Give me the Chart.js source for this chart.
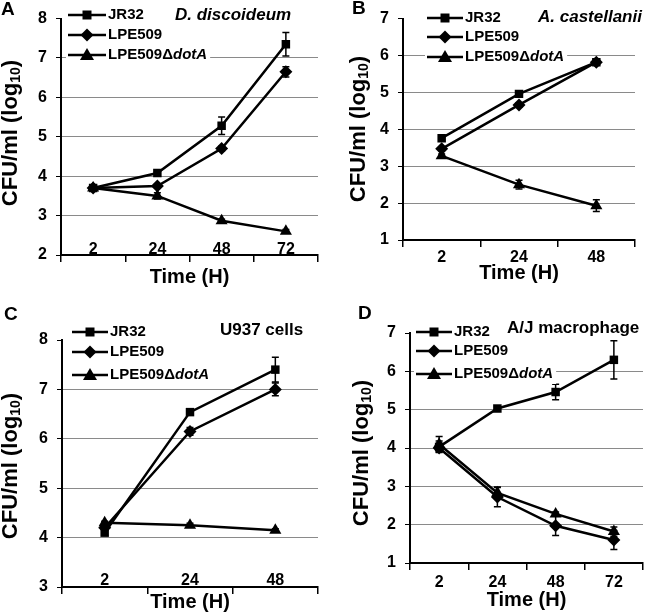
<!DOCTYPE html>
<html>
<head>
<meta charset="utf-8">
<script src="https://cdn.jsdelivr.net/npm/chart.js@4.4.0/dist/chart.umd.min.js"></script>
<style>
  html, body { margin: 0; padding: 0; background: #fff; }
  #wrap { position: relative; width: 650px; height: 614px; }
  canvas { position: absolute; }
</style>
</head>
<body>
<div id="wrap">
  <canvas id="chartA" width="325" height="300" style="left:0;top:0"></canvas>
  <canvas id="chartB" width="325" height="300" style="left:325px;top:0"></canvas>
  <canvas id="chartC" width="325" height="314" style="left:0;top:300px"></canvas>
  <canvas id="chartD" width="325" height="314" style="left:325px;top:300px"></canvas>
</div>
<script>
const FONT = '"Liberation Sans", Arial, sans-serif';

// Panel A - D. discoideum
const hoursA = ['2', '24', '48', '72'];
const jr32A = [3.7, 4.08, 5.28, 7.35];
const jr32ErrA = [0.04, 0.04, 0.22, 0.3];
const lpe509A = [3.7, 3.75, 4.7, 6.65];
const lpe509ErrA = [0.04, 0.05, 0.06, 0.13];
const dotAA = [3.7, 3.5, 2.87, 2.6];
const dotAErrA = [0.03, 0.08, 0.04, 0.05];

// Panel B - A. castellanii
const hoursB = ['2', '24', '48'];
const jr32B = [3.76, 4.96, 5.82];
const jr32ErrB = [0.05, 0.05, 0.05];
const lpe509B = [3.47, 4.66, 5.82];
const lpe509ErrB = [0.05, 0.06, 0.05];
const dotAB = [3.28, 2.5, 1.93];
const dotAErrB = [0.05, 0.12, 0.16];

// Panel C - U937 cells
const hoursC = ['2', '24', '48'];
const jr32C = [4.1, 6.54, 7.4];
const jr32ErrC = [0.05, 0.05, 0.25];
const lpe509C = [4.2, 6.15, 7.0];
const lpe509ErrC = [0.04, 0.08, 0.13];
const dotAC = [4.3, 4.25, 4.15];
const dotAErrC = [0.03, 0.04, 0.03];

// Panel D - A/J macrophage
const hoursD = ['2', '24', '48', '72'];
const jr32D = [4.03, 5.03, 5.46, 6.3];
const jr32ErrD = [0.15, 0.05, 0.2, 0.5];
const lpe509D = [4.0, 2.72, 1.97, 1.6];
const lpe509ErrD = [0.1, 0.25, 0.25, 0.25];
const dotAD = [4.1, 2.83, 2.28, 1.82];
const dotAErrD = [0.2, 0.15, 0.05, 0.12];

// legend text: plain part, italic part
const legendText = [['JR32', ''], ['LPE509', ''], ['LPE509\u0394', 'dotA']];
const markerStyles = ['rect', 'rectRot', 'triangle'];
const markerRadius = [6, 6.5, 7];

// draws error bars before lines and markers
const errorBars = {
  id: 'errorBars',
  beforeDatasetsDraw(chart) {
    const ctx = chart.ctx;
    const y = chart.scales.y;
    ctx.save();
    ctx.strokeStyle = '#000';
    ctx.lineWidth = 1.5;
    chart.data.datasets.forEach((ds, di) => {
      const meta = chart.getDatasetMeta(di);
      ds.errors.forEach((e, i) => {
        const px = meta.data[i].x;
        const top = y.getPixelForValue(ds.data[i] + e);
        const bot = y.getPixelForValue(ds.data[i] - e);
        ctx.beginPath();
        ctx.moveTo(px, top); ctx.lineTo(px, bot);
        ctx.moveTo(px - 3.5, top); ctx.lineTo(px + 3.5, top);
        ctx.moveTo(px - 3.5, bot); ctx.lineTo(px + 3.5, bot);
        ctx.stroke();
      });
    });
    ctx.restore();
  }
};

function drawMarker(ctx, style, x, y) {
  ctx.beginPath();
  if (style === 'rect') {
    ctx.rect(x - 4.5, y - 4.5, 9, 9);
  } else if (style === 'rectRot') {
    ctx.moveTo(x, y - 6.5); ctx.lineTo(x + 6.5, y); ctx.lineTo(x, y + 6.5); ctx.lineTo(x - 6.5, y);
    ctx.closePath();
  } else {
    ctx.moveTo(x, y - 7); ctx.lineTo(x + 7, y + 5); ctx.lineTo(x - 7, y + 5);
    ctx.closePath();
  }
  ctx.fill();
}

// panel letter, legend, panel title and y axis title
const panelDecor = {
  id: 'panelDecor',
  afterDraw(chart, args, o) {
    const ctx = chart.ctx;
    ctx.save();
    ctx.textBaseline = 'middle';
    ctx.textAlign = 'left';

    ctx.fillStyle = '#000';
    ctx.font = 'bold 19px ' + FONT;
    ctx.fillText(o.letter, o.letterX, o.letterY);

    // legend, one white strip per row
    const textX = o.legendX + o.lineLen + 2;
    ctx.strokeStyle = '#000';
    ctx.lineWidth = 2.5;
    o.rows.forEach((ry, i) => {
      ctx.font = 'bold 15px ' + FONT;
      const w0 = ctx.measureText(legendText[i][0]).width;
      ctx.font = 'italic bold 15px ' + FONT;
      const w1 = ctx.measureText(legendText[i][1]).width;
      ctx.fillStyle = '#fff';
      ctx.fillRect(o.legendX - 2, ry - 10, textX - o.legendX + w0 + w1 + 5, 20);
      ctx.fillStyle = '#000';
      ctx.beginPath();
      ctx.moveTo(o.legendX, ry); ctx.lineTo(o.legendX + o.lineLen, ry);
      ctx.stroke();
      drawMarker(ctx, markerStyles[i], o.legendX + o.lineLen / 2, ry);
      ctx.font = 'bold 15px ' + FONT;
      ctx.fillText(legendText[i][0], textX, ry);
      ctx.font = 'italic bold 15px ' + FONT;
      ctx.fillText(legendText[i][1], textX + w0, ry);
    });

    ctx.font = (o.titleItalic ? 'italic ' : '') + 'bold 17px ' + FONT;
    const tw = ctx.measureText(o.title).width;
    ctx.fillStyle = '#fff';
    ctx.fillRect(o.titleX - 3, o.titleY - 11, tw + 6, 22);
    ctx.fillStyle = '#000';
    ctx.fillText(o.title, o.titleX, o.titleY);

    // y axis title with subscript
    ctx.translate(o.yTitleX, o.yTitleY);
    ctx.rotate(-Math.PI / 2);
    const big = 'bold 22px ' + FONT, small = 'bold 14px ' + FONT;
    ctx.font = big;
    const wa = ctx.measureText('CFU/ml (log').width;
    const wc = ctx.measureText(')').width;
    ctx.font = small;
    const wb = ctx.measureText('10').width;
    const x0 = -(wa + wb + wc) / 2;
    ctx.font = big;
    ctx.fillText('CFU/ml (log', x0, 0);
    ctx.font = small;
    ctx.fillText('10', x0 + wa, 5);
    ctx.font = big;
    ctx.fillText(')', x0 + wa + wb, 0);
    ctx.restore();
  }
};

function series(label, values, errs, style, radius) {
  return {
    label: label,
    data: values,
    errors: errs,
    borderColor: '#000',
    backgroundColor: '#000',
    borderWidth: 2.5,
    tension: 0,
    pointStyle: style,
    pointRadius: radius,
    pointBackgroundColor: '#000',
    pointBorderColor: '#000',
    pointBorderWidth: 0
  };
}

function makePanel(id, p) {
  return new Chart(document.getElementById(id), {
    type: 'line',
    data: {
      labels: p.hours,
      datasets: [
        series('JR32', p.jr32, p.jr32Err, markerStyles[0], markerRadius[0]),
        series('LPE509', p.lpe, p.lpeErr, markerStyles[1], markerRadius[1]),
        series('LPE509\u0394dotA', p.dota, p.dotaErr, markerStyles[2], markerRadius[2])
      ]
    },
    options: {
      responsive: false,
      animation: false,
      layout: { padding: { top: p.top, right: p.right, left: 0, bottom: 0 } },
      scales: {
        x: {
          offset: true,
          grid: { offset: true, drawOnChartArea: false, drawTicks: true, tickLength: 7, color: '#000', lineWidth: 1.5 },
          border: { color: '#000', width: 2 },
          ticks: {
            color: '#000', font: { family: FONT, weight: 'bold', size: 16 },
            padding: p.xPad, maxRotation: 0, autoSkip: false
          },
          title: { display: true, text: 'Time (H)', color: '#000', font: { family: FONT, weight: 'bold', size: 20 }, padding: { top: 0, bottom: p.xTitlePad } },
          afterFit(s) { s.height = p.H - p.bottom; },
          // labels of panels A and C sit just above the axis line, so do not clip them to the axis box
          afterUpdate(s) { s._computeLabelArea = () => undefined; }
        },
        y: {
          min: p.min,
          max: p.max,
          grid: {
            color: c => (c.tick && c.tick.value === p.max) ? 'rgba(0,0,0,0)' : '#8a8a8a',
            tickColor: '#000',
            tickLength: 5,
            lineWidth: 1
          },
          border: { color: '#000', width: 2 },
          ticks: { stepSize: 1, color: '#000', padding: 9, font: { family: FONT, weight: 'bold', size: 16 } },
          afterFit(s) { s.width = p.left; }
        }
      },
      plugins: {
        legend: { display: false },
        title: { display: false },
        tooltip: { enabled: false },
        panelDecor: p.decor
      }
    },
    plugins: [errorBars, panelDecor]
  });
}

makePanel('chartA', {
  hours: hoursA, jr32: jr32A, jr32Err: jr32ErrA, lpe: lpe509A, lpeErr: lpe509ErrA, dota: dotAA, dotaErr: dotAErrA,
  H: 300, top: 13, bottom: 255, left: 61, right: -5, min: 2, max: 8, xPad: -22, xTitlePad: 11,
  decor: { letter: 'A', letterX: 1, letterY: 10, title: 'D. discoideum', titleItalic: true, titleX: 175, titleY: 15,
           legendX: 68, lineLen: 38, rows: [15, 35, 55], yTitleX: 11, yTitleY: 133 }
});

makePanel('chartB', {
  hours: hoursB, jr32: jr32B, jr32Err: jr32ErrB, lpe: lpe509B, lpeErr: lpe509ErrB, dota: dotAB, dotaErr: dotAErrB,
  H: 300, top: 17, bottom: 240, left: 78, right: 15, min: 1, max: 7, xPad: 1, xTitlePad: 15,
  decor: { letter: 'B', letterX: 27, letterY: 9, title: 'A. castellanii', titleItalic: true, titleX: 213, titleY: 17,
           legendX: 102, lineLen: 36, rows: [18, 37, 57], yTitleX: 34, yTitleY: 129 }
});

makePanel('chartC', {
  hours: hoursC, jr32: jr32C, jr32Err: jr32ErrC, lpe: lpe509C, lpeErr: lpe509ErrC, dota: dotAC, dotaErr: dotAErrC,
  H: 314, top: 40, bottom: 287, left: 62, right: 0, min: 3, max: 8, xPad: -23, xTitlePad: 0,
  decor: { letter: 'C', letterX: 4, letterY: 15, title: 'U937 cells', titleItalic: false, titleX: 220, titleY: 30,
           legendX: 72, lineLen: 36, rows: [32, 52, 75], yTitleX: 11, yTitleY: 166 }
});

makePanel('chartD', {
  hours: hoursD, jr32: jr32D, jr32Err: jr32ErrD, lpe: lpe509D, lpeErr: lpe509ErrD, dota: dotAD, dotaErr: dotAErrD,
  H: 314, top: 33, bottom: 263, left: 85, right: 7, min: 1, max: 7, xPad: 3, xTitlePad: 2,
  decor: { letter: 'D', letterX: 33, letterY: 14, title: 'A/J macrophage', titleItalic: false, titleX: 182, titleY: 28,
           legendX: 91, lineLen: 36, rows: [32, 51, 74], yTitleX: 37, yTitleY: 153 }
});
</script>
</body>
</html>
